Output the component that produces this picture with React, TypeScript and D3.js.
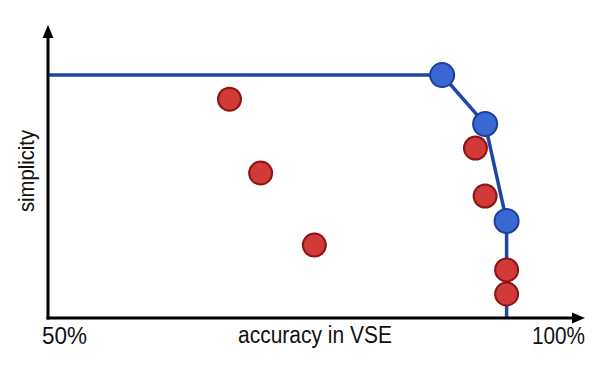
import React from 'react';
import * as d3 from 'd3';

// accuracy (%) and simplicity (0-100)
const frontierAcc = [86.7, 90.7, 92.7];
const frontierSimp = [82.9, 66.2, 33.1];
const otherAcc = [66.9, 69.8, 74.8, 89.8, 90.7, 92.7, 92.7];
const otherSimp = [74.7, 49.5, 24.9, 58.0, 41.6, 16.4, 8.2];
const xTickLabels = ['50%', '100%'];

const W = 600;
const H = 375;
const margin = { top: 25, right: 15, bottom: 57, left: 48 };

const App = () => {
  const x = d3.scaleLinear().domain([50, 100]).range([margin.left, W - margin.right]);
  const y = d3.scaleLinear().domain([0, 100]).range([H - margin.bottom, margin.top]);

  // frontier: flat line from the axis, through the blue points, down to the x axis
  const frontier: [number, number][] = [
    [50, frontierSimp[0]],
    ...frontierAcc.map((a, i) => [a, frontierSimp[i]] as [number, number]),
    [frontierAcc[frontierAcc.length - 1], 0],
  ];
  const line = d3.line<[number, number]>()
    .x(d => x(d[0]))
    .y(d => y(d[1]));

  const x0 = x(50);
  const y0 = y(0);
  const xEnd = x(100);
  const yEnd = y(100);
  const font = '"Liberation Sans", Arial, sans-serif';

  return (
    <svg width={W} height={H} style={{ position: 'absolute', left: 0, top: 0, background: '#fff' }}>
      {/* frontier line */}
      <path d={line(frontier) || ''} fill="none" stroke="#1f46a3" strokeWidth={3.5} />

      {/* axes */}
      <line x1={x0} y1={y0 + 1.5} x2={x0} y2={yEnd + 10} stroke="#000" strokeWidth={3} />
      <line x1={x0 - 1.5} y1={y0} x2={xEnd - 10} y2={y0} stroke="#000" strokeWidth={3} />
      <path d={`M${x0},${yEnd} L${x0 - 5.5},${yEnd + 13} L${x0 + 5.5},${yEnd + 13} Z`} fill="#000" />
      <path d={`M${xEnd},${y0} L${xEnd - 13},${y0 - 5.5} L${xEnd - 13},${y0 + 5.5} Z`} fill="#000" />

      {/* other models */}
      {otherAcc.map((a, i) => (
        <circle key={'o' + i} cx={x(a)} cy={y(otherSimp[i])} r={11.5} fill="#d13a38" stroke="#8c1414" strokeWidth={2} />
      ))}

      {/* frontier models */}
      {frontierAcc.map((a, i) => (
        <circle key={'f' + i} cx={x(a)} cy={y(frontierSimp[i])} r={12} fill="#3a68d0" stroke="#1c3f9e" strokeWidth={2} />
      ))}

      {/* labels */}
      <text x={42} y={344} fontFamily={font} fontSize={23} fill="#111" textLength={45} lengthAdjust="spacingAndGlyphs">
        {xTickLabels[0]}
      </text>
      <text x={585} y={344} textAnchor="end" fontFamily={font} fontSize={23} fill="#111" textLength={53} lengthAdjust="spacingAndGlyphs">
        {xTickLabels[1]}
      </text>
      <text x={238} y={343} fontFamily={font} fontSize={23} fill="#111" textLength={154} lengthAdjust="spacingAndGlyphs">
        accuracy in VSE
      </text>
      <text transform="translate(34,212) rotate(-90)" fontFamily={font} fontSize={22} fill="#111" textLength={82} lengthAdjust="spacingAndGlyphs">
        simplicity
      </text>
    </svg>
  );
};

export default App;
